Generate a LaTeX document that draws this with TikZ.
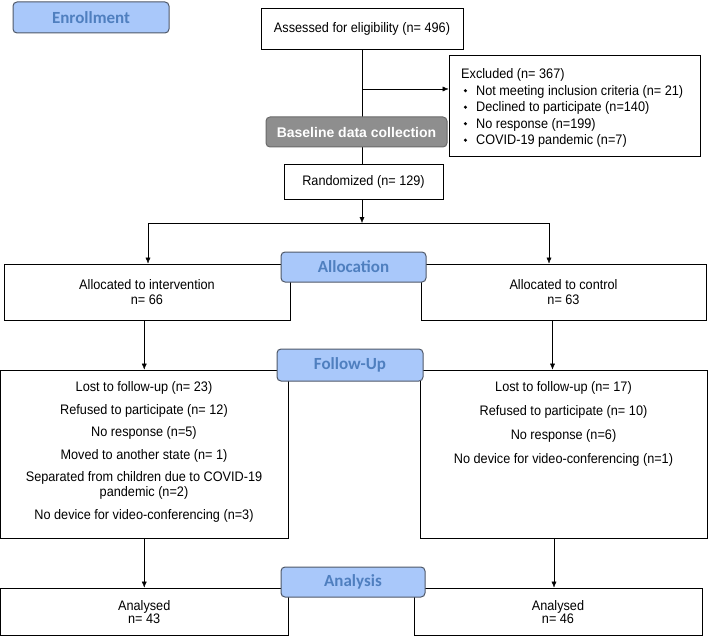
\documentclass[tikz,border=0pt]{standalone}
\usepackage{fontspec}
\setmainfont{Liberation Sans}[FakeStretch=0.92]
\newfontfamily\plainsans{Liberation Sans}
\newfontfamily\calib{Carlito}
\usepackage{xcolor}
\usepackage{tikz}
\usetikzlibrary{arrows.meta,calc}

\definecolor{stagefill}{HTML}{A9C8FA}
\definecolor{stageedge}{HTML}{4F5868}
\definecolor{stagetext}{HTML}{4F7FBF}
\definecolor{basefill}{HTML}{8E8E8E}
\definecolor{baseedge}{HTML}{6A6A6A}

\newcommand{\dmd}{\tikz[baseline=-4.5pt]\fill (0pt,1.7pt)--(1.7pt,0pt)--(0pt,-1.7pt)--(-1.7pt,0pt)--cycle;}

\tikzset{
	box/.style={draw,line width=0.8pt,fill=white,inner sep=0pt},
	txt/.style={align=center,inner sep=0pt,font=\fontsize{13.8}{15}\selectfont},
	stage/.style={draw=stageedge,line width=1pt,fill=stagefill,rounded corners=4pt,text=stagetext,font=\calib\bfseries\fontsize{17}{20}\selectfont},
	basebox/.style={draw=baseedge,line width=1pt,fill=basefill,rounded corners=4pt,text=white,font=\plainsans\bfseries\fontsize{14}{16}\selectfont}
}

\begin{document}
\begin{tikzpicture}[x=1pt,y=-1pt,>={Latex[length=6pt,width=5pt]}]
				\useasboundingbox (0,0) rectangle (708,636);
				\node[stage,minimum width=156pt,minimum height=31pt] (enroll) at (91,17.5) {Enrollment};
				\node[box,txt,minimum width=202pt,minimum height=41pt] (assess) at (362,28.5) {Assessed for eligibility (n= 496)};
				\node[box,minimum width=251pt,minimum height=101pt] (excl) at (574.5,105.5) {};
				\node[txt,align=left,anchor=north west,font=\fontsize{13.8}{16.5}\selectfont] (excltext) at (461,68.5) {Excluded (n= 367)\\
					\hspace*{2.5pt}\dmd\hspace*{9pt}Not meeting inclusion criteria (n= 21)\\
					\hspace*{2.5pt}\dmd\hspace*{9pt}Declined to participate (n=140)\\
					\hspace*{2.5pt}\dmd\hspace*{9pt}No response (n=199)\\
					\hspace*{2.5pt}\dmd\hspace*{9pt}COVID-19 pandemic (n=7)};
				\node[box,txt,minimum width=159pt,minimum height=35pt] (rand) at (363.5,181.5) {Randomized (n= 129)};
				\draw (assess.south) -- (assess.south |- rand.north);
				\coordinate (exjoin) at (362,89);
				\draw[->] (exjoin) -- (exjoin -| excl.west);
				\node[basebox,minimum width=181pt,minimum height=30pt] (base) at (356.5,132) {Baseline data collection};
				\coordinate (split) at (362,223);
				\coordinate (splitL) at (148,223);
				\coordinate (splitR) at (549,223);
				\draw[->] (assess.south |- rand.south) -- (split);
				\draw (splitL) -- (splitR);
				\node[box,txt,minimum width=286pt,minimum height=56pt] (inter) at (147,292) {Allocated to intervention\\n= 66};
				\node[box,txt,minimum width=285pt,minimum height=56pt] (contr) at (563.5,292) {Allocated to control\\n= 63};
				\draw[->] (splitL) -- (splitL |- inter.north);
				\draw[->] (splitR) -- (splitR |- contr.north);
				\node[stage,minimum width=145pt,minimum height=30pt] (alloc) at (353.5,267) {Allocation};
				\node[box,minimum width=287.5pt,minimum height=168pt] (fupL) at (144.25,454) {};
				\node[box,minimum width=287pt,minimum height=168pt] (fupR) at (563.5,454) {};
				\node[txt,anchor=north] (fupLtext) at (144,381.5) {Lost to follow-up (n= 23)\\[7.5pt]Refused to participate (n= 12)\\[7.5pt]No response (n=5)\\[7.5pt]Moved to another state (n= 1)\\[7.5pt]Separated from children due to COVID-19\\pandemic (n=2)\\[7.5pt]No device for video-conferencing (n=3)};
				\node[txt,anchor=north] (fupRtext) at (563.5,381.5) {Lost to follow-up (n= 17)\\[9pt]Refused to participate (n= 10)\\[9pt]No response (n=6)\\[9pt]No device for video-conferencing (n=1)};
				\draw[->] (fupL.north |- inter.south) -- (fupL.north);
				\draw[->] ([xshift=-11pt]contr.south) -- ([xshift=-11pt]contr.south |- fupR.north);
				\node[stage,minimum width=146pt,minimum height=32pt] (fup) at (350,365) {Follow-Up};
				\node[box,txt,minimum width=287.5pt,minimum height=47.5pt] (anaL) at (144.25,611.75) {Analysed\\[-2pt]n= 43};
				\node[box,txt,minimum width=288pt,minimum height=47.5pt] (anaR) at (558,611.75) {Analysed\\[-2pt]n= 46};
				\draw[->] (fupL.south) -- (fupL.south |- anaL.north);
				\draw[->] ([xshift=-9.5pt]fupR.south) -- ([xshift=-9.5pt]fupR.south |- anaR.north);
				\node[stage,minimum width=144pt,minimum height=30pt] (analysis) at (353,582) {Analysis};
			\end{tikzpicture}
\end{document}
